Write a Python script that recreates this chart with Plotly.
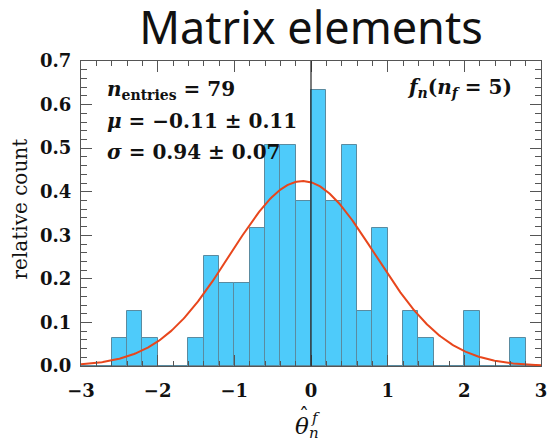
import numpy as np
import plotly.graph_objects as go

# Histogram of fitted matrix-element pulls (79 entries, bin width 0.2)
bin_centers = [-2.9, -2.7, -2.5, -2.3, -2.1, -1.9, -1.7, -1.5, -1.3, -1.1,
               -0.9, -0.7, -0.5, -0.3, -0.1, 0.1, 0.3, 0.5, 0.7, 0.9,
               1.1, 1.3, 1.5, 1.7, 1.9, 2.1, 2.3, 2.5, 2.7, 2.9]
counts = [0, 0, 1, 2, 1, 0, 0, 1, 4, 3,
          3, 5, 8, 8, 6, 10, 6, 8, 2, 5,
          0, 2, 1, 0, 0, 2, 0, 0, 1, 0]
bin_width = 0.2
n_entries = 79

# Gaussian fit parameters
mu = -0.11
sigma = 0.94

x_ticks = [-3, -2, -1, 0, 1, 2, 3]
y_ticks = [0.0, 0.1, 0.2, 0.3, 0.4, 0.5, 0.6, 0.7]

rel_count = [c / (n_entries * bin_width) for c in counts]

xs = np.linspace(-3, 3, 400)
gauss = np.exp(-0.5 * ((xs - mu) / sigma) ** 2) / (sigma * np.sqrt(2 * np.pi))

SERIF = "DejaVu Serif"
INK = "#111111"

fig = go.Figure()
fig.add_trace(go.Bar(
    x=bin_centers, y=rel_count, width=bin_width,
    marker=dict(color="#4ecbfa", line=dict(color="#5a8ba0", width=1)),
    hoverinfo="skip",
))
fig.add_trace(go.Scatter(
    x=xs, y=gauss, mode="lines",
    line=dict(color="#e8461c", width=2),
    hoverinfo="skip",
))

axis_common = dict(
    showgrid=False, zeroline=False,
    showline=True, linecolor="#555555", linewidth=1.3, mirror="allticks",
    ticks="inside", ticklen=11, tickwidth=1, tickcolor="#555555",
    tickfont=dict(family=SERIF, size=18, color=INK, weight="bold"),
    ticklabeloverflow="allow", automargin=False,
)

fig.update_xaxes(
    range=[-3, 3], tickvals=x_ticks,
    minor=dict(dtick=0.2, tick0=0, ticks="inside", ticklen=5, tickcolor="#555555"),
    ticklabelstandoff=8,
    **axis_common,
)
fig.update_yaxes(
    range=[0, 0.7], tickvals=y_ticks, tickformat=".1f",
    minor=dict(dtick=0.02, tick0=0, ticks="inside", ticklen=6, tickcolor="#555555"),
    ticklabelstandoff=5,
    **axis_common,
)

# vertical reference line at zero
fig.add_shape(type="line", x0=0, x1=0, y0=0, y1=1, xref="x", yref="paper",
              line=dict(color="#222222", width=1.2), layer="above")

ann_font = dict(family=SERIF, size=20, color=INK)
lines = [
    "<b><i>n</i><sub>entries</sub> = 79</b>",
    "<b><i>μ</i> = −0.11 ± 0.11</b>",
    "<b><i>σ</i> = 0.94 ± 0.07</b>",
]
for i, t in enumerate(lines):
    fig.add_annotation(text=t, xref="paper", yref="paper", x=0, y=1,
                       xshift=24, yshift=-29 - 31 * i,
                       xanchor="left", yanchor="middle", showarrow=False,
                       font=ann_font)
fig.add_annotation(text="<b><i>f</i><sub><i>n</i></sub>(<i>n</i><sub><i>f</i></sub> = 5)</b>",
                   xref="paper", yref="paper", x=1, y=1, xshift=-27, yshift=-27,
                   xanchor="right", yanchor="middle", showarrow=False, font=ann_font)

# axis titles
fig.add_annotation(text="relative count", xref="paper", yref="paper", x=0, y=0.5,
                   xshift=-62, yshift=4, textangle=-90, xanchor="center", yanchor="middle",
                   showarrow=False, font=dict(family=SERIF, size=20, color=INK))
fig.add_annotation(text="<i>θ</i>", xref="x", yref="paper", x=0, y=0,
                   xshift=-9, yshift=-60, xanchor="center", yanchor="middle",
                   showarrow=False, font=dict(family=SERIF, size=23, color=INK))
fig.add_annotation(text="ˆ", xref="x", yref="paper", x=0, y=0,
                   xshift=-7, yshift=-50, xanchor="center", yanchor="middle",
                   showarrow=False, font=dict(family=SERIF, size=20, color=INK))
fig.add_annotation(text="<i>f</i>", xref="x", yref="paper", x=0, y=0,
                   xshift=4, yshift=-52, xanchor="center", yanchor="middle",
                   showarrow=False, font=dict(family=SERIF, size=15, color=INK))
fig.add_annotation(text="<i>n</i>", xref="x", yref="paper", x=0, y=0,
                   xshift=3, yshift=-67, xanchor="center", yanchor="middle",
                   showarrow=False, font=dict(family=SERIF, size=15, color=INK))

fig.update_layout(
    width=547, height=441,
    margin=dict(l=81, r=6, t=61, b=75, autoexpand=False),
    paper_bgcolor="white", plot_bgcolor="white",
    showlegend=False, bargap=0,
    title=dict(text="Matrix elements", x=0.5, xref="paper", xanchor="center",
               y=1 - 28 / 441, yref="container", yanchor="middle",
               font=dict(family="Noto Sans", size=45, color=INK)),
)

fig.write_html("out.html")
